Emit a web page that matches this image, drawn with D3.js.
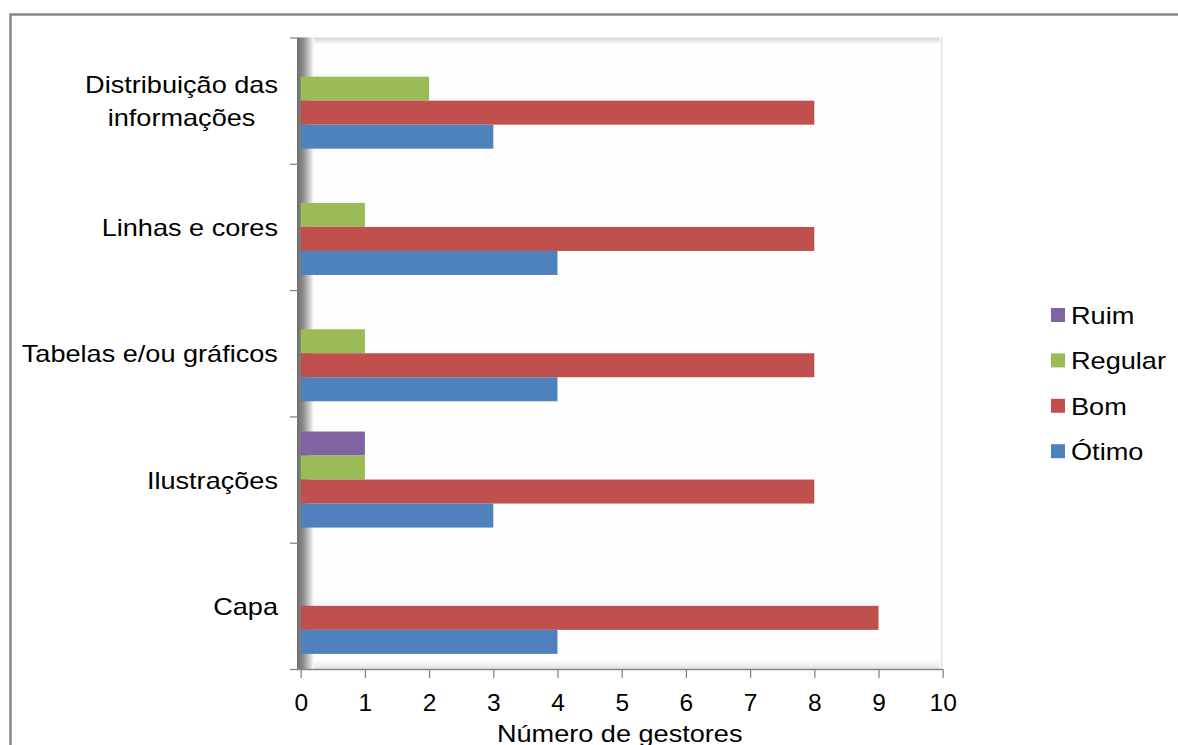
<!DOCTYPE html>
<html><head><meta charset="utf-8">
<script src="https://cdn.jsdelivr.net/npm/d3@7"></script>
<style>
body{margin:0;background:#fff;}
svg{display:block;font-family:"Liberation Sans",Arial,sans-serif;}
</style>
</head><body>
<svg id="c" width="1178" height="745"></svg>
<script>
// ---- data ----
const categories = ["Distribuição das\ninformações", "Linhas e cores", "Tabelas e/ou gráficos", "Ilustrações", "Capa"];
const seriesNames = ["Ruim", "Regular", "Bom", "Ótimo"];
const ruim    = [0, 0, 0, 1, 0];
const regular = [2, 1, 1, 1, 0];
const bom     = [8, 8, 8, 8, 9];
const otimo   = [3, 4, 4, 3, 4];
const xTickValues = [0, 1, 2, 3, 4, 5, 6, 7, 8, 9, 10];
const axisTitle = "Número de gestores";
const seriesColors = ["#8064A2", "#9BBB59", "#C0504D", "#4F81BD"];

const seriesValues = [ruim, regular, bom, otimo];

const svg = d3.select("#c");
const plot = {left: 300.7, right: 942.7, top: 37.5, bottom: 669};
const x = d3.scaleLinear().domain([0, 10]).range([plot.left, plot.right]);
const y0 = d3.scaleBand().domain(categories).range([plot.top, plot.bottom]);
const y1 = d3.scaleBand().domain(seriesNames).range([0, y0.bandwidth()]).paddingOuter(0.63);
const color = d3.scaleOrdinal().domain(seriesNames).range(seriesColors);
const sx = 1.13;

// outer frame
svg.append("rect").attr("x", 10.5).attr("y", 14.5).attr("width", 1300).attr("height", 900)
  .attr("fill", "#fff").attr("stroke", "#878787").attr("stroke-width", 2.5);

// gradients
const defs = svg.append("defs");
function grad(id, x1, y1_, x2, y2, stops) {
  const g = defs.append("linearGradient").attr("id", id)
    .attr("x1", x1).attr("y1", y1_).attr("x2", x2).attr("y2", y2);
  stops.forEach(s => g.append("stop").attr("offset", s[0]).attr("stop-color", s[1]));
}
grad("gLeft", 0, 0, 1, 0, [[0, "#6e6e6e"], [0.35, "#8a8a8a"], [0.7, "#c6c6c6"], [1, "#ffffff"]]);
grad("gTop", 0, 0, 0, 1, [[0, "#d4d4d4"], [1, "#fdfdfd"]]);
grad("gBot", 0, 0, 0, 1, [[0, "#fdfdfd"], [1, "#e4e4e4"]]);
grad("gRight", 0, 0, 1, 0, [[0, "#fdfdfd"], [1, "#e2e2e2"]]);

// back wall
svg.append("rect").attr("x", plot.left).attr("y", plot.top)
  .attr("width", plot.right - plot.left).attr("height", plot.bottom - plot.top).attr("fill", "#fefefe");
svg.append("rect").attr("x", plot.left).attr("y", plot.top)
  .attr("width", plot.right - plot.left).attr("height", 7).attr("fill", "url(#gTop)");
svg.append("rect").attr("x", plot.left).attr("y", plot.bottom - 9)
  .attr("width", plot.right - plot.left).attr("height", 9).attr("fill", "url(#gBot)");
svg.append("rect").attr("x", plot.right - 3).attr("y", plot.top)
  .attr("width", 3).attr("height", plot.bottom - plot.top).attr("fill", "url(#gRight)");
// side wall
svg.append("rect").attr("x", 297).attr("y", plot.top)
  .attr("width", 17).attr("height", plot.bottom - plot.top).attr("fill", "url(#gLeft)");

// bars
const bars = [];
seriesNames.forEach((s, i) => categories.forEach((c, j) => {
  if (seriesValues[i][j] > 0) bars.push({s, c, v: seriesValues[i][j]});
}));
svg.append("g").selectAll("rect").data(bars).join("rect")
  .attr("x", x(0))
  .attr("y", d => y0(d.c) + y1(d.s))
  .attr("width", d => x(d.v) - x(0))
  .attr("height", y1.bandwidth())
  .attr("fill", d => color(d.s));

// bottom axis
const xAxis = svg.append("g").attr("transform", `translate(0,${plot.bottom})`)
  .call(d3.axisBottom(x).tickValues(xTickValues).tickSize(9).tickSizeOuter(0).tickPadding(16));
xAxis.select(".domain").attr("stroke", "#868686").attr("stroke-width", 1.5)
  .attr("d", `M297,0.5H${plot.right}`);
xAxis.selectAll(".tick line").attr("stroke", "#868686").attr("stroke-width", 1.3);
xAxis.selectAll(".tick text").attr("font-size", 24.5).attr("fill", "#000")
  .attr("font-family", '"Liberation Sans",Arial,sans-serif');

// left axis (category boundaries)
const yb = d3.scaleLinear().domain([0, categories.length]).range([plot.top, plot.bottom]);
const yAxis = svg.append("g").attr("transform", "translate(298,0)")
  .call(d3.axisLeft(yb).tickValues(d3.range(categories.length + 1)).tickFormat("").tickSize(8).tickSizeOuter(0));
yAxis.select(".domain").remove();
yAxis.selectAll(".tick line").attr("stroke", "#868686").attr("stroke-width", 1.3);

// category labels
categories.forEach(c => {
  const lines = c.split("\n");
  const cy = y0(c) + y0.bandwidth() / 2;
  const g = svg.append("g");
  const texts = lines.map((ln, i) => g.append("text").text(ln)
    .attr("font-size", 24).attr("fill", "#000").attr("text-anchor", "middle")
    .attr("y", 9 + (i - (lines.length - 1) / 2) * 33));
  const maxW = d3.max(texts, t => t.node().getComputedTextLength());
  g.attr("transform", `translate(${278 - maxW * sx / 2},${cy}) scale(${sx},1)`);
});

// axis title
svg.append("text").text(axisTitle).attr("font-size", 24).attr("fill", "#000")
  .attr("text-anchor", "middle")
  .attr("transform", `translate(${(plot.left + plot.right) / 2 - 2},742) scale(${sx},1)`);

// legend
const legend = svg.append("g");
seriesNames.forEach((s, i) => {
  const by = 324 + i * 45.4;
  legend.append("rect").attr("x", 1051).attr("y", by - 16).attr("width", 14).attr("height", 14)
    .attr("fill", color(s));
  legend.append("text").text(s).attr("font-size", 23).attr("fill", "#000")
    .attr("transform", `translate(1071,${by}) scale(1.18,1)`);
});
</script>
</body></html>
